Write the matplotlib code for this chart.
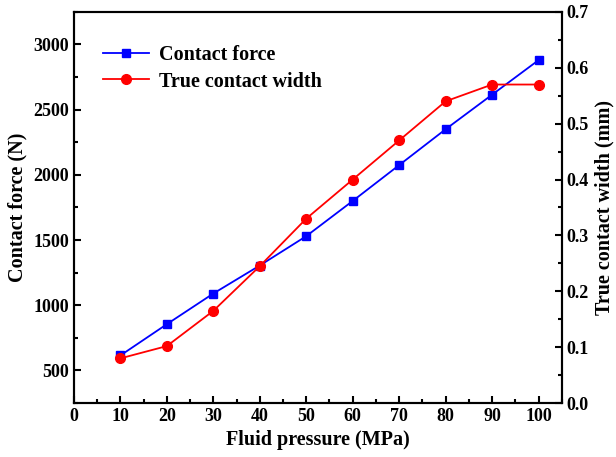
import numpy as np
import matplotlib.pyplot as plt
from matplotlib.ticker import MultipleLocator

plt.rcParams['font.family'] = ['Liberation Serif', 'DejaVu Serif']
plt.rcParams['font.weight'] = 'bold'

# data
pressure = [10, 20, 30, 40, 50, 60, 70, 80, 90, 100]
force = [615, 855, 1090, 1305, 1530, 1800, 2075, 2350, 2615, 2880]
width = [0.080, 0.102, 0.165, 0.245, 0.330, 0.400, 0.470, 0.540, 0.570, 0.570]

fig = plt.figure(figsize=(6.16, 4.57), dpi=100)
ax = fig.add_axes([0.120, 0.118, 0.792, 0.856])
ax2 = ax.twinx()

l1, = ax.plot(pressure, force, color='#0000ff', marker='s', markersize=6, lw=1.3,
              label='Contact force')
l2, = ax2.plot(pressure, width, color='#ff0000', marker='o', markersize=7, lw=1.3,
               label='True contact width')

ax.set_xlim(0, 105)
ax.set_ylim(250, 3250)
ax2.set_ylim(0, 0.7)

ax.xaxis.set_major_locator(MultipleLocator(10))
ax.xaxis.set_minor_locator(MultipleLocator(5))
ax.yaxis.set_major_locator(MultipleLocator(500))
ax.yaxis.set_minor_locator(MultipleLocator(250))
ax2.yaxis.set_major_locator(MultipleLocator(0.1))
ax2.yaxis.set_minor_locator(MultipleLocator(0.05))
ax2.yaxis.set_major_formatter(plt.FormatStrFormatter('%.1f'))

for a in (ax, ax2):
    a.tick_params(which='both', direction='in', labelsize=13, width=1.5)
    a.tick_params(which='major', length=5)
    a.tick_params(which='minor', length=3)
    for s in a.spines.values():
        s.set_linewidth(1.5)

ax.set_xlabel('Fluid pressure (MPa)', fontsize=14.5, fontweight='bold')
ax.set_ylabel('Contact force (N)', fontsize=14.5, fontweight='bold')
ax2.set_ylabel('True contact width (mm)', fontsize=14.5, fontweight='bold')

ax.legend([l1, l2], [l1.get_label(), l2.get_label()], loc='upper left',
          frameon=False, fontsize=14.5, bbox_to_anchor=(0.035, 0.945),
          handlelength=2.3, handletextpad=0.5, labelspacing=0.3,
          borderaxespad=0.2)

fig.savefig('out.png', dpi=100)
